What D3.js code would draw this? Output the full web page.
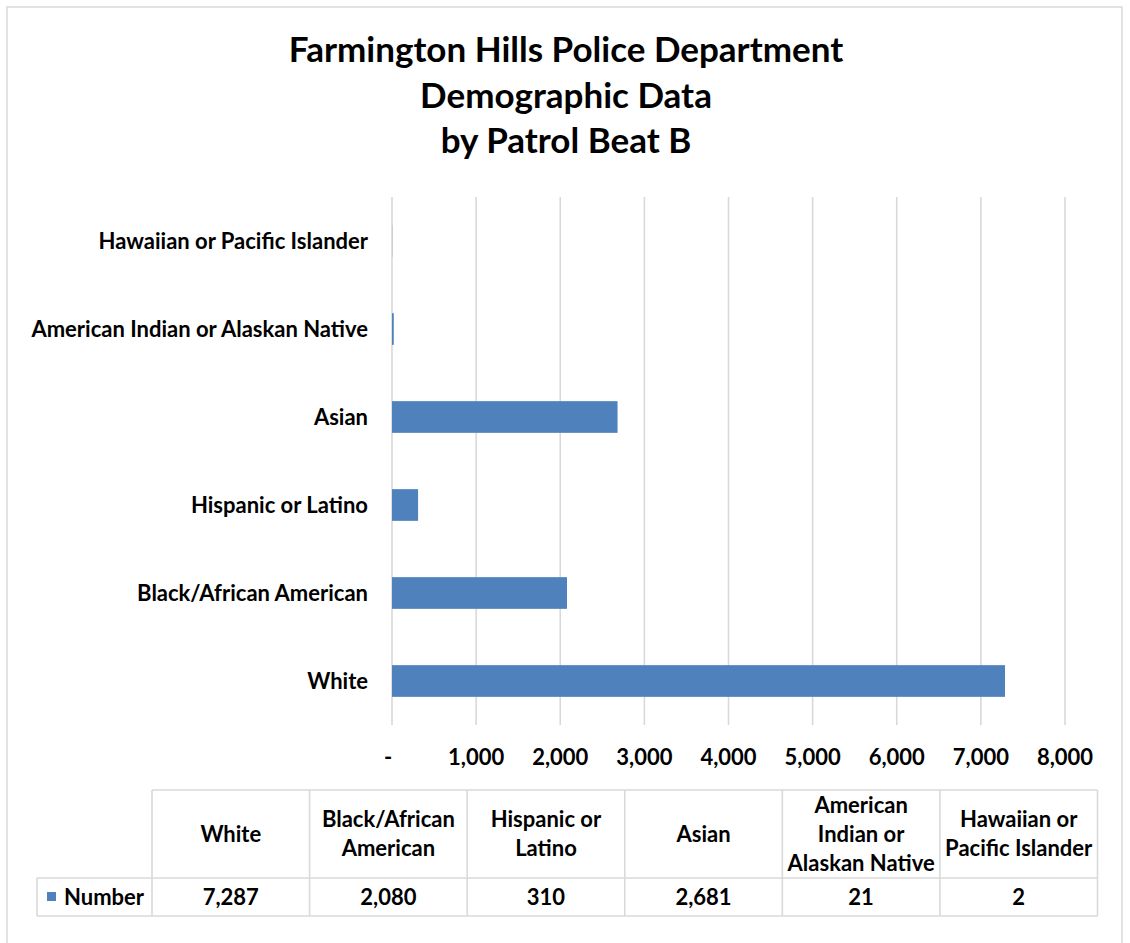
<!DOCTYPE html>
<html><head><meta charset="utf-8">
<script src="https://cdn.jsdelivr.net/npm/d3@7/dist/d3.min.js"></script>
<style>body{margin:0;background:#fff}svg{display:block}text{font-family:Lato,"Open Sans",sans-serif;font-weight:700;fill:#000}</style>
</head><body>
<script>
const categories = ["White","Black/African American","Hispanic or Latino","Asian","American Indian or Alaskan Native","Hawaiian or Pacific Islander"];
const tableHeaders = [["White"],["Black/African","American"],["Hispanic or","Latino"],["Asian"],["American","Indian or","Alaskan Native"],["Hawaiian or","Pacific Islander"]];
const values = [7287, 2080, 310, 2681, 21, 2];
const seriesName = "Number";
const xTicks = [0,1000,2000,3000,4000,5000,6000,7000,8000];
const titleLines = ["Farmington Hills Police Department","Demographic Data","by Patrol Beat B"];

(function(){
const W = 1130, H = 943;
const FS = "22px";
const svg = d3.select("body").append("svg").attr("width", W).attr("height", H);
svg.append("rect").attr("x",7).attr("y",7).attr("width",1115).attr("height",945).attr("fill","#fff").attr("stroke","#d9d9d9").attr("stroke-width",1.5);

const tY = [62, 108, 153];
svg.selectAll("text.title").data(titleLines).join("text").attr("class","title")
  .attr("x",566).attr("y",(d,i)=>tY[i]).attr("text-anchor","middle").style("font-size","35px").text(d=>d);

const x = d3.scaleLinear().domain([0,8000]).range([392,1065]);
const y = d3.scaleBand().domain(categories.slice().reverse()).range([197,725]).paddingInner(0.64).paddingOuter(0.32);

const grid = svg.append("g");
grid.selectAll("line").data(xTicks).join("line")
  .attr("x1",d=>x(d)).attr("x2",d=>x(d)).attr("y1",197).attr("y2",725)
  .attr("stroke","#d9d9d9").attr("stroke-width",1.6);

svg.append("g").selectAll("rect").data(categories).join("rect")
  .attr("x",x(0)).attr("y",d=>y(d)).attr("height",y.bandwidth())
  .attr("width",(d,i)=>x(values[i])-x(0)).attr("fill","#4f81bd");

svg.append("g").selectAll("text").data(categories).join("text")
  .attr("x",368).attr("y",d=>y(d)+y.bandwidth()/2).attr("dy","0.35em")
  .attr("text-anchor","end").style("font-size",FS).text(d=>d);

const fmt = d3.format(",");
svg.append("g").selectAll("text").data(xTicks).join("text")
  .attr("x",d=> d===0 ? x(d)-4 : x(d)).attr("y",757).attr("dy","0.35em")
  .attr("text-anchor","middle").style("font-size",FS).text(d=> d===0 ? "-" : fmt(d));

// data table
const colX = d3.range(7).map(i => 152 + i*(1097.5-152)/6);
const tTop = 790, tMid = 878, tBot = 916;
const tb = svg.append("g").attr("stroke","#d9d9d9").attr("stroke-width",1.6);
tb.append("line").attr("x1",152).attr("x2",1097.5).attr("y1",tTop).attr("y2",tTop);
tb.append("line").attr("x1",37).attr("x2",1097.5).attr("y1",tMid).attr("y2",tMid);
tb.append("line").attr("x1",37).attr("x2",1097.5).attr("y1",tBot).attr("y2",tBot);
tb.append("line").attr("x1",37).attr("x2",37).attr("y1",tMid).attr("y2",tBot);
tb.selectAll("line.v").data(colX).join("line").attr("class","v")
  .attr("x1",d=>d).attr("x2",d=>d).attr("y1",tTop).attr("y2",tBot);

const cw = colX[1]-colX[0];
tableHeaders.forEach((lines,i)=>{
  const cx = colX[i]+cw/2, cy = (tTop+tMid)/2, lh = 29;
  svg.append("text").attr("x",cx).attr("text-anchor","middle").style("font-size",FS)
    .selectAll("tspan").data(lines).join("tspan")
    .attr("x",cx).attr("y",(d,j)=>cy+(j-(lines.length-1)/2)*lh).attr("dy","0.35em").text(d=>d);
});
svg.append("g").selectAll("text").data(values).join("text")
  .attr("x",(d,i)=>colX[i]+cw/2).attr("y",(tMid+tBot)/2).attr("dy","0.35em")
  .attr("text-anchor","middle").style("font-size",FS).text(d=>fmt(d));
svg.append("rect").attr("x",47).attr("y",892).attr("width",9).attr("height",9).attr("fill","#4f81bd");
svg.append("text").attr("x",64).attr("y",(tMid+tBot)/2).attr("dy","0.35em").style("font-size",FS).text(seriesName);
})();
</script>
</body></html>
